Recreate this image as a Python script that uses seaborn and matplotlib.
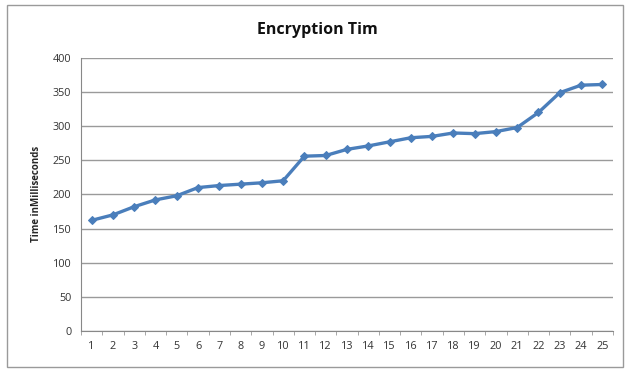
import numpy as np
import pandas as pd
import seaborn as sns
import matplotlib.pyplot as plt
from matplotlib.patches import Rectangle
from matplotlib.ticker import MultipleLocator, FixedLocator

# values
runs = list(range(1, 26))
times_ms = [162, 170, 182, 192, 198, 210, 213, 215, 217, 220,
            256, 257, 266, 271, 277, 283, 285, 290, 289, 292,
            298, 320, 349, 360, 361]

df = pd.DataFrame({'run': runs, 'time': times_ms})

sns.set_style("white")
plt.rcParams['font.family'] = ['Open Sans', 'DejaVu Sans']

fig = plt.figure(figsize=(6.28, 3.71), dpi=100)
ax = fig.add_axes([0.129, 0.108, 0.847, 0.736])

sns.lineplot(data=df, x='run', y='time', ax=ax, color='#4a7ebb',
             linewidth=2.4, marker='D', markersize=4.5,
             markeredgecolor='#4a7ebb')

ax.set_xlim(0.5, 25.5)
ax.set_ylim(0, 400)
ax.yaxis.set_major_locator(MultipleLocator(50))
ax.set_xticks(runs)
ax.xaxis.set_minor_locator(FixedLocator(np.arange(0.5, 26, 1)))
ax.tick_params(axis='x', which='major', length=0, labelsize=7.8, pad=7, colors='#333333')
ax.tick_params(axis='x', which='minor', length=3, direction='out', color='#999999', bottom=True)
ax.tick_params(axis='y', length=0, labelsize=7.8, colors='#333333', pad=7)
ax.grid(axis='y', color='#9a9a9a', linewidth=1)
ax.set_axisbelow(True)

for side in ['top', 'right']:
    ax.spines[side].set_visible(False)
ax.spines['left'].set_color('#888888')
ax.spines['bottom'].set_color('#888888')

ax.set_xlabel('')
ax.set_ylabel('Time inMilliseconds', fontsize=7, fontweight='bold', labelpad=8)
fig.text(0.505, 0.918, 'Encryption Tim', ha='center', va='center',
         fontsize=11.5, fontweight='bold', color='#111111')

fig.patches.append(Rectangle((0.011, 0.011), 0.981, 0.976, transform=fig.transFigure,
                             fill=False, edgecolor='#9a9a9a', linewidth=1))

fig.savefig('out.png', dpi=100)
